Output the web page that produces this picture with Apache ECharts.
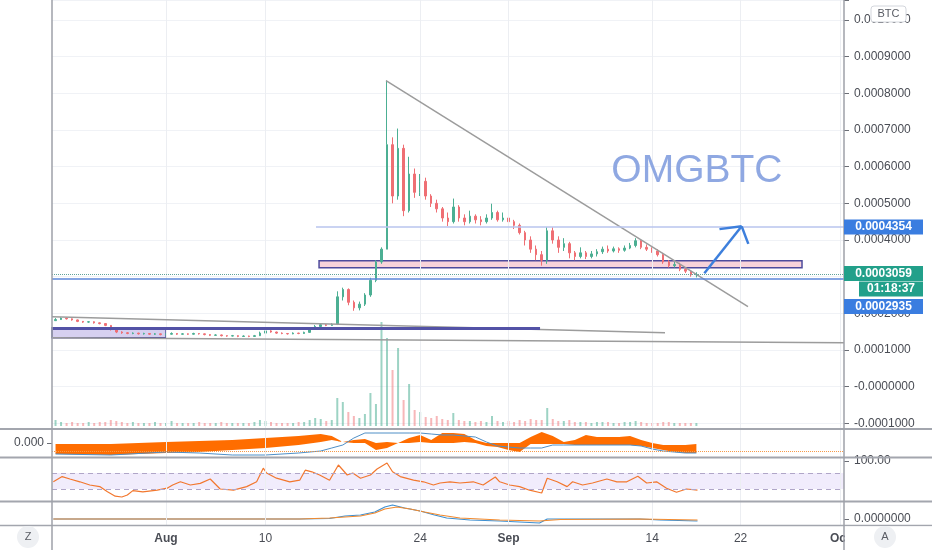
<!DOCTYPE html>
<html><head><meta charset="utf-8">
<script src="https://cdn.jsdelivr.net/npm/echarts@6/dist/echarts.min.js"></script>
<style>html,body{margin:0;padding:0;background:#fff}#c{width:932px;height:550px}</style>
</head><body><div id="c"></div>
<script>
// ---- time axis: days from 1 Aug (12h candles) ----
const candleStartDay = -10, candleStepDay = 0.5;
const tickDays = [0, 9, 23, 31, 44, 52, 61];
const tickLabels = ['Aug', '10', '24', 'Sep', '14', '22', 'Oct'];

// ---- OHLC in satoshi (1e-8 BTC) ----
const openSat = [18000,18300,18700,18500,18200,17800,17600,17700,17400,17200,16700,15600,14900,14700,14500,14600,14400,14500,14300,14400,14200,14300,14500,14300,14400,14300,14500,14400,14200,14000,14100,13900,13800,13900,13700,13800,13700,13900,14600,15200,14900,14600,14500,14400,14600,14500,14800,15600,16400,16900,16700,17000,24500,26500,23000,21500,22500,25000,29000,34000,37500,66000,52000,65000,48000,58000,53000,56000,52000,50000,48500,46000,45000,49000,46000,45000,46500,45500,45000,46000,47500,45500,46000,45000,44000,42000,40000,37500,36000,34500,42500,40000,38000,39000,36500,35500,36500,35500,36200,36800,37500,37000,37600,37200,37800,38500,39800,38000,37500,37000,36000,34000,33000,33300,32000,31500,30500];
const closeSat = [18300,18700,18500,18200,17800,17600,17700,17400,17200,16700,15600,14900,14700,14500,14600,14400,14500,14300,14400,14200,14300,14500,14300,14400,14300,14500,14400,14200,14000,14100,13900,13800,13900,13700,13800,13700,13900,14600,15200,14900,14600,14500,14400,14600,14500,14800,15600,16400,16900,16700,17000,24500,26500,23000,21500,22500,25000,29000,34000,37500,66000,52000,65000,48000,58000,53000,56000,52000,50000,48500,46000,45000,49000,46000,45000,46500,45500,45000,46000,47500,45500,46000,45000,44000,42000,40000,37500,36000,34500,42500,40000,38000,39000,36500,35500,36500,35500,36200,36800,37500,37000,37600,37200,37800,38500,39800,38000,37500,37000,36000,34000,33000,33300,32000,31500,30500,30590];
const highSat = [18700,18900,18900,18600,18300,17900,17900,17800,17500,17300,16800,15800,15100,14900,14800,14700,14700,14600,14600,14500,14500,14800,14600,14600,14500,14700,14600,14500,14300,14300,14200,14000,14100,14000,14000,13900,14100,15000,15600,15400,15000,14800,14600,14800,14700,15000,16000,16800,17200,17100,17300,26000,27000,26800,23500,23200,25500,29700,34500,38000,83500,68000,70400,66000,62700,59500,58000,57000,52500,51000,49000,47500,51300,49500,47000,48000,47000,46500,47000,49900,48000,47500,46500,45500,44500,42500,41000,38500,37000,43500,43500,41000,40500,39500,37000,38000,37000,37000,37500,38200,38500,38200,38000,38500,39200,40500,40000,38800,38000,37500,36500,34500,34000,33800,32500,31800,31200];
const lowSat = [17900,18200,18300,18000,17600,17400,17400,17200,17000,16500,15300,14600,14400,14300,14300,14200,14200,14100,14100,14000,14000,14200,14100,14200,14100,14200,14200,14000,13800,13900,13700,13600,13700,13500,13600,13500,13600,13800,14500,14700,14400,14300,14200,14300,14300,14400,14700,15500,16300,16500,16600,16800,23500,22200,20700,20800,22000,24500,28500,33500,37500,50000,51000,46500,47500,51500,52000,51000,49000,47500,45000,43800,44500,45000,44000,44500,44500,44000,44500,45500,45000,45000,44000,43000,41500,38500,36500,34500,33000,33500,39000,36500,37000,35000,34500,35000,34800,35000,35500,36200,36500,36600,36500,36800,37500,38000,37500,37000,36500,35500,33500,32500,32500,31500,31000,30000,29800];
const volume = [6,4,3,4,3,3,4,3,4,4,6,5,4,3,4,3,3,3,4,3,3,5,3,3,3,3,4,3,3,3,4,3,3,3,3,3,4,6,5,4,3,3,3,3,4,4,6,8,7,5,6,28,24,14,10,8,12,33,22,104,88,56,78,26,42,16,14,9,8,10,7,6,13,6,5,5,4,5,4,10,5,4,5,4,6,5,7,6,6,18,7,5,5,6,4,4,4,3,4,4,4,3,3,4,4,5,4,3,3,3,4,4,3,3,3,3,3];

// ---- price levels / drawings (day, satoshi) ----
const targetPrice = 43540, lastPrice = 30590, alertPrice = 29350;
const countdownText = '01:18:37';
const trendLines = [
  [[19.91, 83477], [52.67, 21824]],
  [[-10.32, 19096], [45.16, 14731]],
  [[-10.32, 13367], [61.36, 12003]]
];
const targetLine = [[13.57, 43540], [61.36, 43540]];
const baseLine = [[-10.32, 15822], [33.85, 15822]];
const supportBox = [[13.85, 34373], [57.56, 32463]];
const baseBox = [[-10.32, 16095], [0, 13367]];
const arrowShaft = [[48.72, 30908], [52.1, 43730]];
const arrowHeadL = [[50.09, 42966], [52.1, 43730]];
const arrowHeadR = [[52.7, 38929], [52.1, 43730]];
const titleText = 'OMGBTC';
const titleAnchor = [48.05, 58652];

// ---- indicator pane 1 (oscillator band + signal) ----
const macdDay = [-10,-5,0,3,6,9,12,14,15,16,17,18,19,20,21,22,23,24,25,26,27,28,29,30,31,32,33,34,35,36,37,38,39,40,41,42,43,44,45,46,47,48];
const macdUpper = [-1,-1,1,2,3,5,7,9,7,1,3,4,0,1,0,5,8,3,10,10,9,3,0,0,0,0,6,11,7,1,3,8,6,6,6,7,3,0,-2,-2,-2,-1];
const macdLower = [-11,-12,-10,-9,-7,-5,-2,1,3,1,0,0,-7,-5,0,0,1,0,0,0,1,0,-3,-4,-7,-9,-1,-1,-1,-1,-2,-2,-2,-2,-2,-2,-3,-5,-7,-9,-10,-10];
const macdSignal = [-11,-12,-9,-10,-12,-12,-10,-8,-5,-2,5,10,10,10,10,10,10,9,8,8,7,6,1,-3,-4,-5,-5,-5,-2,-2,-2,-2,-2,-2,-2,-2,-3,-6,-8,-9,-10,-10];
const macdZeroDots = -8.7;

// ---- RSI ----
const rsiDay = [-10.2,-9.4,-8.7,-7.8,-6.9,-6.0,-5.3,-4.6,-4.0,-3.5,-3.0,-2.1,-0.8,0.1,0.6,1.3,2.2,3.1,4.0,4.9,6.1,7.3,8.2,8.8,9.1,10.0,11.2,12.1,12.6,13.2,13.9,14.8,15.6,16.4,16.9,17.6,18.5,19.1,20.0,20.5,21.2,22.4,23.3,24.2,24.8,25.7,26.6,27.8,28.7,29.8,30.2,31.1,32.0,32.9,34.0,34.5,35.4,36.3,36.8,37.7,38.6,39.9,40.8,41.7,42.7,43.5,44.4,45.3,46.2,47.1,48.1];
const rsiValue = [48,61,55,48,40,36,23,12,10,15,26,23,27,32,40,48,40,44,55,30,27,36,48,82,70,57,48,52,77,73,65,52,90,65,70,57,65,80,95,73,61,52,48,40,45,48,45,48,40,60,48,40,36,27,20,57,48,36,48,40,45,55,48,48,62,45,48,32,22,30,27];
const rsiBand = [30, 70];

// ---- bottom oscillator ----
const oscBlueDay = [-10.2,0,12.1,14.8,16.2,17.6,18.9,19.8,20.5,21.6,23.0,24.3,25.4,27.5,30.2,32.0,33.8,34.5,35.7,42.9,44.7,48.1];
const oscBlue = [0,0,0,0.5,3,4,7,12,14,11,8,4,1,-1,-2,-3,-4,0,0,0,-1,-2];
const oscOrangeDay = [-10.2,12.1,14.8,16.2,17.6,18.9,19.8,20.9,22.1,23.4,24.8,26.6,30.2,33.8,35.7,42.9,48.1];
const oscOrange = [0,0,1,2,3,6,10,12,10,7,4,1,-1,-2,-0.5,0,-1];

// ---------------------------------------------------------------
const X_MIN = -10.32, X_MAX = 61.36;
const FONT = 'Liberation Sans';
const TXT = '#4a4d55';
const UP = '#4caf93', DOWN = '#ef6f74';
const days = openSat.map((_, i) => candleStartDay + i * candleStepDay);
const candleData = days.map((d, i) => [d, openSat[i], closeSat[i], lowSat[i], highSat[i]]);
const volData = days.map((d, i) => ({
  value: [d, volume[i]],
  itemStyle: { color: closeSat[i] >= openSat[i] ? 'rgba(76,175,147,0.55)' : 'rgba(239,111,116,0.5)' }
}));
const zip = (a, b) => a.map((v, i) => [v, b[i]]);

const chart = echarts.init(document.getElementById('c'));
const hiddenX = i => ({ type: 'value', gridIndex: i, min: X_MIN, max: X_MAX, show: false, axisLine: { onZero: false }, splitLine: { show: false } });
const seg = (pts, style) => [{ coord: pts[0], lineStyle: style }, { coord: pts[1] }];
const grayStyle = { color: '#9c9c9c', width: 1.5, type: 'solid' };
const arrowStyle = { color: '#3d7fdc', width: 2.5, type: 'solid' };
const tickStyle = { color: '#6b6e76' };

const option = {
  animation: false,
  backgroundColor: '#ffffff',
  textStyle: { fontFamily: FONT },
  grid: [
    { left: 52, right: 88, top: 0, height: 525 },
    { left: 52, right: 88, top: 0, height: 423.3 },
    { left: 52, right: 88, top: 306, height: 120 },
    { left: 52, right: 88, top: 430, height: 27 },
    { left: 52, right: 88, top: 459, height: 42 },
    { left: 52, right: 88, top: 502, height: 23 }
  ],
  xAxis: [
    hiddenX(0), hiddenX(1), hiddenX(2), hiddenX(3), hiddenX(4),
    {
      type: 'value', gridIndex: 5, min: X_MIN, max: X_MAX,
      axisLine: { show: false, onZero: false }, axisTick: { show: false }, splitLine: { show: false },
      axisLabel: {
        customValues: tickDays, margin: 8, color: TXT, fontSize: 12, fontFamily: FONT,
        formatter: v => {
          const i = tickDays.indexOf(v);
          if (i < 0) return '';
          const t = tickLabels[i];
          return /^[A-Z]/.test(t) ? '{b|' + t + '}' : t;
        },
        rich: { b: { fontWeight: 'bold', color: TXT, fontSize: 12, fontFamily: FONT } }
      }
    }
  ],
  yAxis: [
    { type: 'value', gridIndex: 0, min: 0, max: 1, show: false, axisLine: { onZero: false } },
    {
      type: 'value', gridIndex: 1, position: 'right', min: -10000, max: 105466, interval: 10000,
      axisLine: { show: false, onZero: false },
      axisTick: { show: true, length: 5, lineStyle: tickStyle },
      splitLine: { show: true, lineStyle: { color: '#f0f2f6', width: 1 } },
      axisLabel: {
        margin: 10, color: TXT, fontSize: 12, fontFamily: FONT,
        formatter: v => (Math.round(v) % 10000 !== 0) ? '' : (v === 0 ? '-0.0000000' : (v / 1e8).toFixed(7))
      }
    },
    { type: 'value', gridIndex: 2, min: 0, max: 120, show: false, axisLine: { onZero: false } },
    {
      type: 'value', gridIndex: 3, position: 'left', min: -14, max: 13,
      axisLine: { show: false, onZero: false }, splitLine: { show: false },
      axisTick: { show: true, customValues: [0], length: 5, lineStyle: tickStyle },
      axisLabel: { customValues: [0], margin: 8, color: TXT, fontSize: 12, fontFamily: FONT,
        formatter: v => v === 0 ? '0.000' : '' }
    },
    {
      type: 'value', gridIndex: 4, position: 'right', min: 0, max: 105,
      axisLine: { show: false, onZero: false }, splitLine: { show: false },
      axisTick: { show: true, customValues: [100], length: 5, lineStyle: tickStyle },
      axisLabel: { customValues: [100], margin: 10, color: TXT, fontSize: 12, fontFamily: FONT,
        formatter: v => v === 100 ? '100.00' : '' }
    },
    {
      type: 'value', gridIndex: 5, position: 'right', min: -6, max: 17,
      axisLine: { show: false, onZero: false }, splitLine: { show: false },
      axisTick: { show: true, customValues: [0], length: 5, lineStyle: tickStyle },
      axisLabel: { customValues: [0], margin: 10, color: TXT, fontSize: 12, fontFamily: FONT,
        formatter: v => v === 0 ? '0.0000000' : '' }
    }
  ],
  series: [
    {
      type: 'line', xAxisIndex: 0, yAxisIndex: 0, data: [[0, -5]], showSymbol: false, silent: true, z: 0,
      lineStyle: { opacity: 0 },
      markLine: {
        silent: true, symbol: ['none', 'none'], label: { show: false },
        lineStyle: { color: '#eceef2', width: 1, type: 'solid' },
        data: tickDays.map(d => ({ xAxis: d }))
      }
    },
    {
      type: 'bar', xAxisIndex: 2, yAxisIndex: 2, data: volData, barWidth: 2, silent: true, z: 1
    },
    {
      type: 'candlestick', xAxisIndex: 1, yAxisIndex: 1, data: candleData, barWidth: 2, z: 3,
      encode: { x: 0, y: [1, 2, 3, 4] },
      itemStyle: { color: UP, color0: DOWN, borderColor: UP, borderColor0: DOWN, borderWidth: 1 },
      markArea: {
        silent: true,
        data: [
          [{ coord: supportBox[0], itemStyle: { color: '#f8d3da', opacity: 1, borderColor: '#4e4b9c', borderWidth: 1.5 } }, { coord: supportBox[1] }],
          [{ coord: baseBox[0], itemStyle: { color: '#d6d0f0', opacity: 1, borderColor: '#4e4b9c', borderWidth: 1.5 } }, { coord: baseBox[1] }]
        ]
      },
      markLine: {
        silent: true, symbol: ['none', 'none'], label: { show: false },
        data: [
          seg(trendLines[0], grayStyle),
          seg(trendLines[1], grayStyle),
          seg(trendLines[2], grayStyle),
          seg(targetLine, { color: '#b9c5ee', width: 1.5, type: 'solid' }),
          seg(baseLine, { color: '#5352a6', width: 3, type: 'solid' }),
          { yAxis: alertPrice, lineStyle: { color: '#5d87da', width: 1.5, type: 'solid' } },
          { yAxis: lastPrice, lineStyle: { color: '#5fa39b', width: 1, type: 'dotted' } },
          seg(arrowShaft, arrowStyle),
          seg(arrowHeadL, arrowStyle),
          seg(arrowHeadR, arrowStyle)
        ]
      }
    },
    {
      type: 'custom', xAxisIndex: 3, yAxisIndex: 3, silent: true, z: 2,
      data: macdDay.map((d, i) => [d, macdUpper[i], macdLower[i]]),
      encode: { x: 0, y: [1, 2] },
      renderItem: (params, api) => {
        if (params.dataIndex !== 0) return null;
        const pts = [];
        for (let i = 0; i < macdDay.length; i++) pts.push(api.coord([macdDay[i], macdUpper[i]]));
        for (let i = macdDay.length - 1; i >= 0; i--) pts.push(api.coord([macdDay[i], macdLower[i]]));
        return { type: 'polygon', shape: { points: pts }, style: { fill: '#ff6d00' } };
      },
      markLine: {
        silent: true, symbol: ['none', 'none'], label: { show: false },
        data: [{ yAxis: macdZeroDots, lineStyle: { color: '#f59a4a', width: 1, type: 'dotted' } }]
      }
    },
    {
      type: 'line', xAxisIndex: 3, yAxisIndex: 3, data: zip(macdDay, macdSignal), z: 4,
      showSymbol: false, lineStyle: { width: 1, color: '#4f8fc6' }, silent: true
    },
    {
      type: 'line', xAxisIndex: 4, yAxisIndex: 4, data: zip(rsiDay, rsiValue),
      showSymbol: false, lineStyle: { width: 1.2, color: '#f2772e' }, silent: true, z: 3,
      markArea: {
        silent: true,
        data: [[{ yAxis: rsiBand[0], itemStyle: { color: 'rgba(150,110,230,0.13)' } }, { yAxis: rsiBand[1] }]]
      },
      markLine: {
        silent: true, symbol: ['none', 'none'], label: { show: false },
        lineStyle: { color: '#b0a6c8', width: 1, type: [5, 4] },
        data: [{ yAxis: rsiBand[0] }, { yAxis: rsiBand[1] }]
      }
    },
    {
      type: 'line', xAxisIndex: 5, yAxisIndex: 5, data: zip(oscBlueDay, oscBlue),
      showSymbol: false, lineStyle: { width: 1.2, color: '#3d8fd1' }, silent: true
    },
    {
      type: 'line', xAxisIndex: 5, yAxisIndex: 5, data: zip(oscOrangeDay, oscOrange),
      showSymbol: false, lineStyle: { width: 1.2, color: '#f28a2e' }, silent: true
    }
  ]
};
chart.setOption(option);

// ---- chrome + badges ----
const sepStroke = '#a3a6ae';
const hLine = (y, w) => ({ type: 'line', z: 50, silent: true, shape: { x1: 0, y1: y, x2: 932, y2: y }, style: { stroke: sepStroke, lineWidth: w } });
const vLine = x => ({ type: 'line', z: 50, silent: true, shape: { x1: x, y1: 0, x2: x, y2: 550 }, style: { stroke: '#9ea1a9', lineWidth: 1.5 } });
const badge = (yc, text, color, x0, w) => ([
  { type: 'rect', z: 60, shape: { x: x0, y: yc - 7.5, width: w, height: 15 }, style: { fill: color } },
  { type: 'text', z: 61, x: x0 + w / 2, y: yc, style: { text: text, fill: '#ffffff', font: 'bold 12px "Liberation Sans"', align: 'center', verticalAlign: 'middle' } }
]);
const yT = chart.convertToPixel({ yAxisIndex: 1 }, targetPrice);
const yL = chart.convertToPixel({ yAxisIndex: 1 }, lastPrice);
const yA = chart.convertToPixel({ yAxisIndex: 1 }, alertPrice);
const tp = chart.convertToPixel({ gridIndex: 1 }, titleAnchor);
const BLUE = '#3a7de0', TEAL = '#22a08a';
const g = [
  hLine(429, 2), hLine(457.5, 2), hLine(501.5, 2), hLine(525.5, 1.5),
  vLine(52), vLine(844),
  { type: 'rect', z: 55, shape: { x: 845, y: 526.5, width: 87, height: 24 }, style: { fill: '#ffffff' } },
  { type: 'circle', z: 62, shape: { cx: 28, cy: 537, r: 11 }, style: { fill: '#eef0f3' } },
  { type: 'text', z: 63, x: 28, y: 537, style: { text: 'Z', fill: '#5a5d65', font: '11px "Liberation Sans"', align: 'center', verticalAlign: 'middle' } },
  { type: 'circle', z: 62, shape: { cx: 885, cy: 537, r: 11 }, style: { fill: '#eef0f3' } },
  { type: 'text', z: 63, x: 885, y: 537, style: { text: 'A', fill: '#5a5d65', font: '11px "Liberation Sans"', align: 'center', verticalAlign: 'middle' } },
  { type: 'rect', z: 62, shape: { x: 871, y: 6, width: 35, height: 16, r: 3 }, style: { fill: '#ffffff', stroke: '#d3d6dc', lineWidth: 1 } },
  { type: 'text', z: 63, x: 888.5, y: 14, style: { text: 'BTC', fill: '#5a5d65', font: '11px "Liberation Sans"', align: 'center', verticalAlign: 'middle' } },
  { type: 'text', z: 40, x: tp[0], y: tp[1], style: { text: titleText, fill: '#8fa8e2', font: '39px "Liberation Sans"', align: 'center', verticalAlign: 'middle' } }
]
  .concat(badge(yT, (targetPrice / 1e8).toFixed(7), BLUE, 844, 79))
  .concat(badge(yL - 1, (lastPrice / 1e8).toFixed(7), TEAL, 844, 79))
  .concat(badge(yL + 14.5, countdownText, TEAL, 859, 64))
  .concat(badge(yA + 27.5, (alertPrice / 1e8).toFixed(7), BLUE, 844, 79));
chart.setOption({ graphic: { elements: g } });
</script>
</body></html>
